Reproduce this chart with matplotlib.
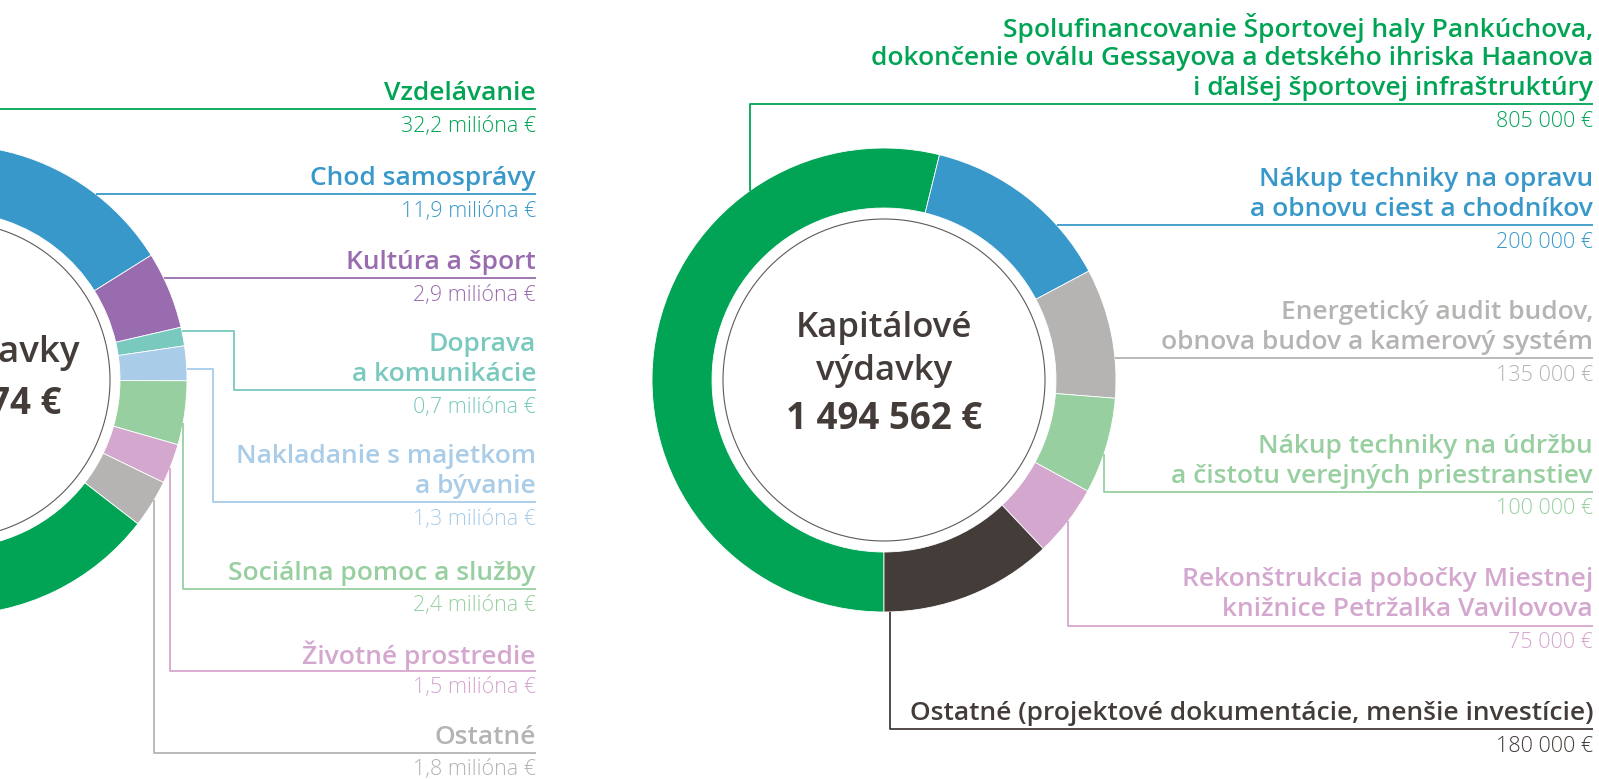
import numpy as np
import matplotlib.pyplot as plt
from matplotlib.patches import Circle

plt.rcParams['font.family'] = ['Open Sans', 'DejaVu Sans']

W, H = 1599, 779

# bezne vydavky (mil. EUR)
bezne_kat = ['Vzdelávanie', 'Chod samosprávy', 'Kultúra a šport', 'Doprava\na komunikácie',
             'Nakladanie s majetkom\na bývanie', 'Sociálna pomoc a služby',
             'Životné prostredie', 'Ostatné']
bezne_hodnoty = [32.2, 11.9, 2.9, 0.7, 1.3, 2.4, 1.5, 1.8]
bezne_farby = ['#00a454', '#3898ca', '#986caf', '#79c9bf', '#a9cce8', '#98cfa0', '#d4a7cf', '#b5b4b2']
bezne_nadpis = ['Bežné výdavky', '54 735 474 €']

# kapitalove vydavky (EUR)
kap_kat = ['Spolufinancovanie Športovej haly Pankúchova,\ndokončenie oválu Gessayova a detského ihriska Haanova\ni ďalšej športovej infraštruktúry',
           'Nákup techniky na opravu\na obnovu ciest a chodníkov',
           'Energetický audit budov,\nobnova budov a kamerový systém',
           'Nákup techniky na údržbu\na čistotu verejných priestranstiev',
           'Rekonštrukcia pobočky Miestnej\nknižnice Petržalka Vavilovova',
           'Ostatné (projektové dokumentácie, menšie investície)']
kap_hodnoty = [805000, 200000, 135000, 100000, 75000, 180000]
kap_farby = ['#00a454', '#3898ca', '#b5b4b2', '#98cfa0', '#d4a7cf', '#433c39']
kap_nadpis = ['Kapitálové', 'výdavky', '1 494 562 €']

tmava = '#433c39'


def Y(y):
    return H - y


def donut(ax, vals, cols, cx, cy, r_out, r_in, r_line, start):
    ax.pie(vals, colors=cols, startangle=start, counterclock=False,
           radius=r_out, center=(cx, Y(cy)),
           wedgeprops=dict(width=r_out - r_in, edgecolor='white', linewidth=0.6))
    ax.add_patch(Circle((cx, Y(cy)), r_line, fill=False, edgecolor='#5e5a58', lw=0.8))


def leader(ax, cx, cy, r, col, line_y, x_end, start_y=None, start_x=None, elbow_x=None):
    if start_y is not None:
        x0 = cx + np.sqrt(r**2 - (start_y - cy)**2)
        if elbow_x is None:
            xs, ys = [x0, x_end], [line_y, line_y]
        else:
            xs = [x0, elbow_x, elbow_x, x_end]
            ys = [start_y, start_y, line_y, line_y]
    elif start_x is not None:
        dy = np.sqrt(r**2 - (start_x - cx)**2)
        y0 = cy - dy if line_y < cy else cy + dy
        xs, ys = [start_x, start_x, x_end], [y0, line_y, line_y]
    else:
        xs, ys = [-50, x_end], [line_y, line_y]
    ax.plot(xs, [Y(v) for v in ys], color=col, lw=1.3, solid_capstyle='butt')


def labels(ax, kat, popisky, cols, line_ys, x_right):
    for k, p, c, ly in zip(kat, popisky, cols, line_ys):
        riadky = k.split('\n')
        for i, t in enumerate(reversed(riadky)):
            ax.text(x_right, Y(ly - 16 - 30 * i), t, ha='right', va='center',
                    fontsize=19, fontweight='semibold', color=c)
        ax.text(x_right, Y(ly + 17), p, ha='right', va='center',
                fontsize=15.5, fontweight='light', color=c)


fig = plt.figure(figsize=(W / 100, H / 100), dpi=100)
ax = fig.add_axes([0, 0, 1, 1])

# lavy donut
L = dict(cx=-48, cy=380, r=235)
donut(ax, bezne_hodnoty, bezne_farby, L['cx'], L['cy'], 235, 168, 158, -37.7)
ax.text(80, Y(353), bezne_nadpis[0], ha='right', va='center', fontsize=26.5,
        fontweight='semibold', color=tmava)
ax.text(61, Y(404), bezne_nadpis[1], ha='right', va='center', fontsize=26.5,
        fontweight='bold', color=tmava)

bezne_ciary = [109, 194, 278, 390, 502, 589, 671, 753]
bezne_tvar = [dict(), dict(start_y=194), dict(start_y=278),
              dict(start_y=331, elbow_x=234), dict(start_y=369, elbow_x=213),
              dict(start_x=183), dict(start_x=170), dict(start_x=154)]
for c, ly, tv in zip(bezne_farby, bezne_ciary, bezne_tvar):
    leader(ax, L['cx'], L['cy'], L['r'], c, ly, 536, **tv)
bezne_popisky = [f'{v:.1f}'.replace('.', ',') + ' milióna €' for v in bezne_hodnoty]
labels(ax, bezne_kat, bezne_popisky, bezne_farby, bezne_ciary, 536)

# pravy donut
R = dict(cx=884, cy=380, r=232)
donut(ax, kap_hodnoty, kap_farby, R['cx'], R['cy'], 232, 172, 161, 270)
ax.text(884, Y(328), kap_nadpis[0], ha='center', va='center', fontsize=25,
        fontweight='semibold', color=tmava)
ax.text(884, Y(371), kap_nadpis[1], ha='center', va='center', fontsize=25,
        fontweight='semibold', color=tmava)
ax.text(884, Y(419), kap_nadpis[2], ha='center', va='center', fontsize=26.5,
        fontweight='bold', color=tmava)

kap_ciary = [104, 225, 358, 492, 626, 729]
kap_tvar = [dict(start_x=750), dict(start_y=225), dict(start_y=358),
            dict(start_x=1104), dict(start_x=1068), dict(start_x=890)]
for c, ly, tv in zip(kap_farby, kap_ciary, kap_tvar):
    leader(ax, R['cx'], R['cy'], R['r'], c, ly, 1593, **tv)
kap_popisky = [f'{v:,}'.replace(',', ' ') + ' €' for v in kap_hodnoty]
labels(ax, kap_kat, kap_popisky, kap_farby, kap_ciary, 1593)

ax.set_xlim(0, W)
ax.set_ylim(0, H)
ax.set_aspect('equal')
ax.axis('off')

fig.savefig('out.png', dpi=100, facecolor='white')
